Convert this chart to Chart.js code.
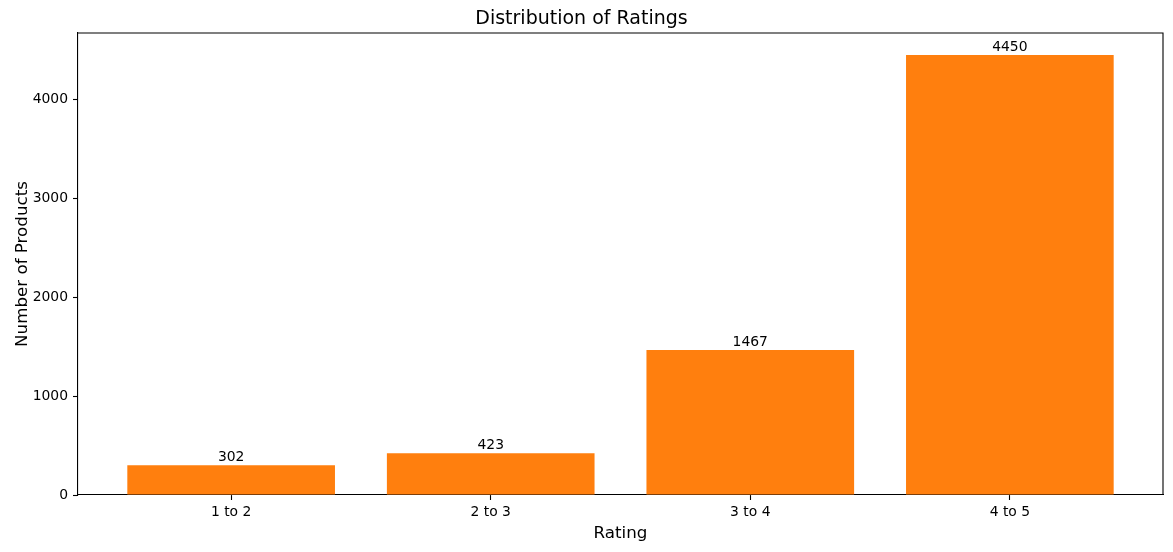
<!DOCTYPE html>
<html>
<head>
<meta charset="utf-8">
<script src="https://cdn.jsdelivr.net/npm/chart.js@4.4.1/dist/chart.umd.min.js"></script>
<style>
  html, body { margin: 0; padding: 0; background: #fff; }
  #wrap { width: 1173px; height: 552px; }
</style>
</head>
<body>
<div id="wrap"><canvas id="myChart" width="1173" height="552"></canvas></div>
<script>
// chart data
var categories = ['1 to 2', '2 to 3', '3 to 4', '4 to 5'];
var productCounts = [302, 423, 1467, 4450];
var yTicks = [0, 1000, 2000, 3000, 4000];

var FONT = "'DejaVu Sans', sans-serif";

// bar value labels + top/right frame lines
var extras = {
    id: 'extras',
    afterDatasetsDraw: function (chart) {
        var ctx = chart.ctx;
        var meta = chart.getDatasetMeta(0);
        ctx.save();
        ctx.fillStyle = '#000';
        ctx.font = '13.9px ' + FONT;
        ctx.textAlign = 'center';
        ctx.textBaseline = 'bottom';
        meta.data.forEach(function (bar, i) {
            ctx.fillText(String(productCounts[i]), bar.x, bar.y - 1);
        });
        var a = chart.chartArea;
        ctx.strokeStyle = '#000';
        ctx.lineWidth = 1.1;
        ctx.beginPath();
        ctx.moveTo(a.left, a.top);
        ctx.lineTo(a.right, a.top);
        ctx.lineTo(a.right, a.bottom);
        ctx.stroke();
        ctx.restore();
    }
};

var ctx = document.getElementById('myChart').getContext('2d');

new Chart(ctx, {
    type: 'bar',
    data: {
        datasets: [{
            data: productCounts.map(function (v, i) { return { x: i, y: v }; }),
            backgroundColor: '#ff7f0e',
            borderWidth: 0,
            barPercentage: 1,
            categoryPercentage: 0.8
        }]
    },
    options: {
        responsive: false,
        animation: false,
        layout: { padding: { left: 0, right: 10, top: 0, bottom: 0 } },
        plugins: {
            legend: { display: false },
            tooltip: { enabled: false },
            title: {
                display: true,
                text: 'Distribution of Ratings',
                color: '#000',
                font: { family: FONT, size: 19, weight: 'normal', lineHeight: 1.2 },
                padding: { top: 7.6, bottom: 2.6 }
            }
        },
        scales: {
            x: {
                type: 'linear',
                min: -0.59,
                max: 3.59,
                offset: false,
                afterBuildTicks: function (scale) {
                    scale.ticks = categories.map(function (c, i) { return { value: i }; });
                },
                afterFit: function (scale) { scale.height = 57; },
                ticks: {
                    color: '#000',
                    font: { family: FONT, size: 13.9 },
                    padding: 4,
                    maxRotation: 0,
                    autoSkip: false,
                    callback: function (v) { return categories[v]; }
                },
                grid: { offset: false, drawOnChartArea: false, tickLength: 5, color: '#000', tickWidth: 1.1 },
                border: { color: '#000', width: 1.1 },
                title: {
                    display: true,
                    text: 'Rating',
                    color: '#000',
                    font: { family: FONT, size: 16.7 },
                    padding: { top: 4, bottom: 8 }
                }
            },
            y: {
                min: 0,
                max: 4672.5,
                afterBuildTicks: function (scale) {
                    scale.ticks = yTicks.map(function (v) { return { value: v }; });
                },
                afterFit: function (scale) { scale.width = 78; },
                ticks: {
                    color: '#000',
                    font: { family: FONT, size: 13.9 },
                    padding: 5,
                    callback: function (v) { return String(v); }
                },
                grid: { drawOnChartArea: false, tickLength: 5, color: '#000', tickWidth: 1.1 },
                border: { color: '#000', width: 1.1 },
                title: {
                    display: true,
                    text: 'Number of Products',
                    color: '#000',
                    font: { family: FONT, size: 16.7 },
                    padding: { top: 13, bottom: 0 }
                }
            }
        }
    },
    plugins: [extras]
});
</script>
</body>
</html>
